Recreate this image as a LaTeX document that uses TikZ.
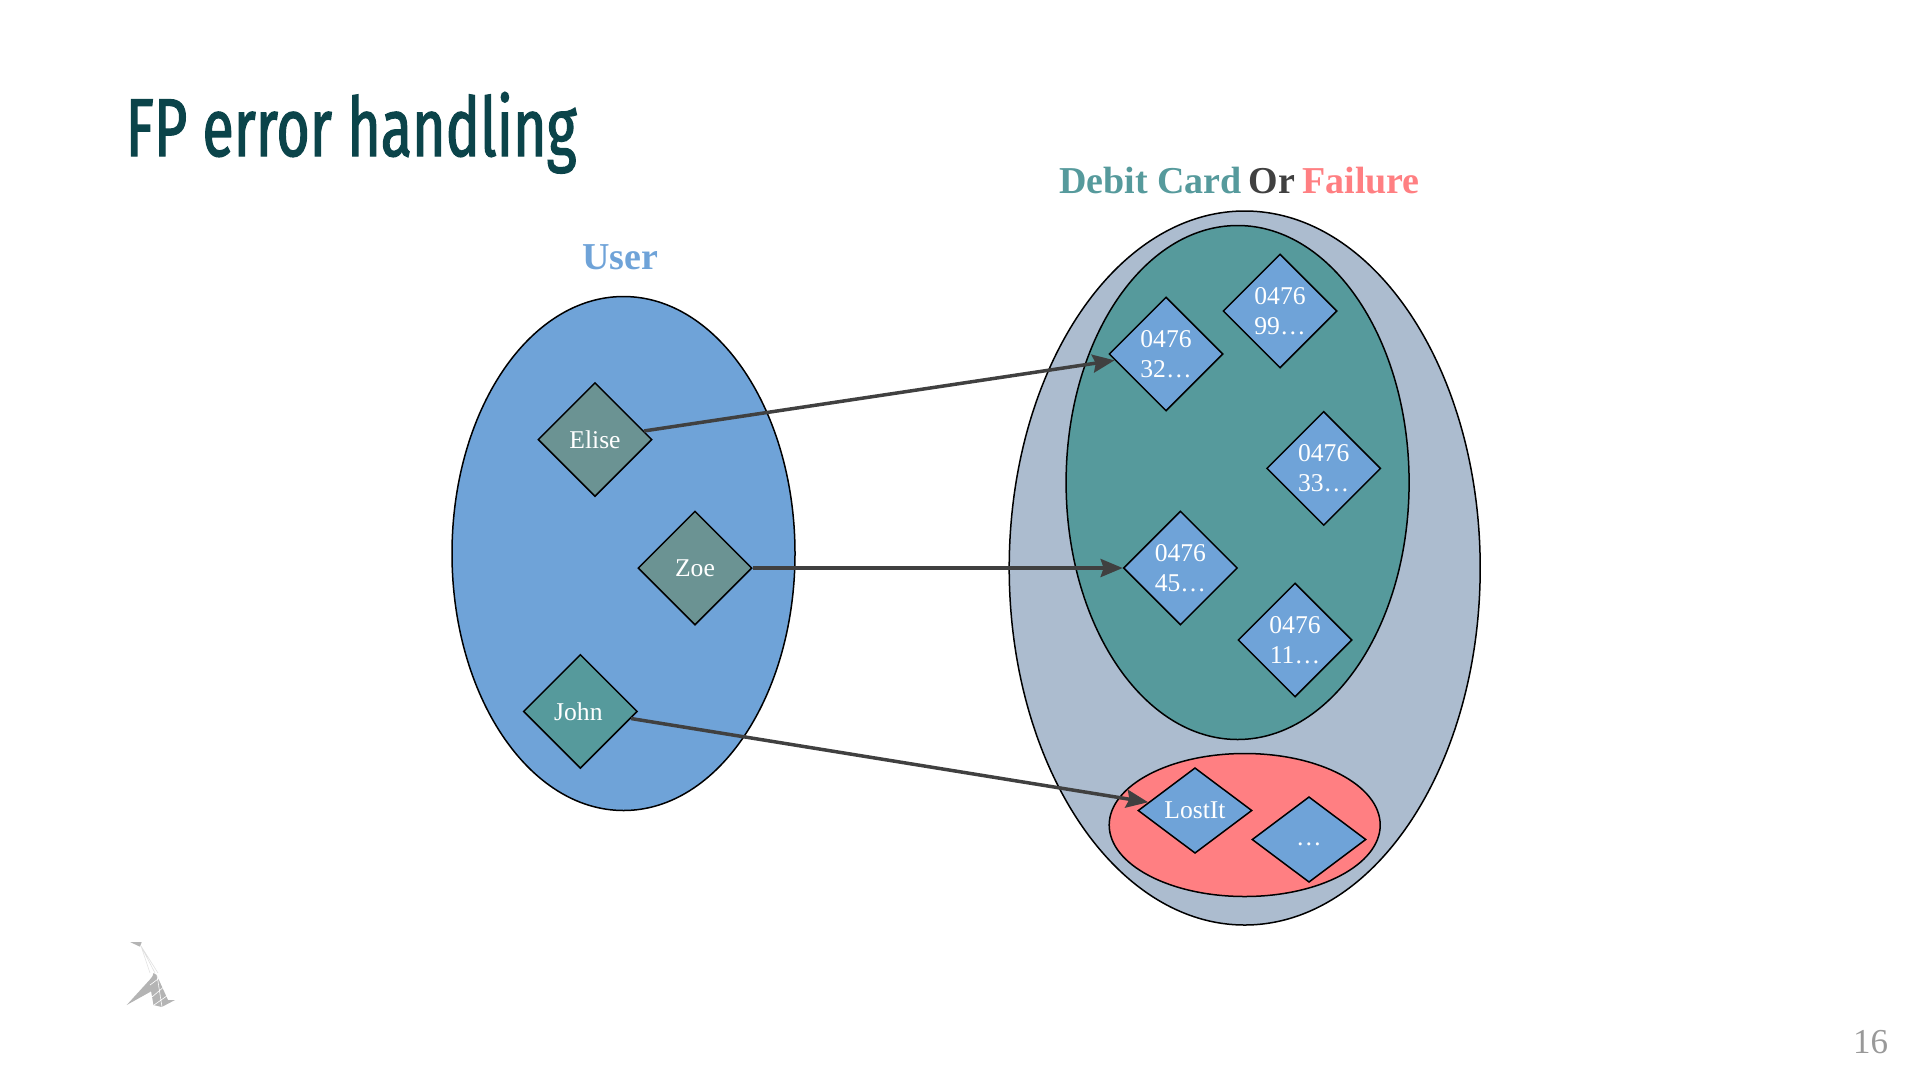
\documentclass[tikz,border=0pt]{standalone}
\usepackage{fontspec}
\usepackage{tikz}
\usetikzlibrary{shapes.geometric,arrows.meta}
\setmainfont{Liberation Serif}
\newfontfamily\titlefont[FakeStretch=0.7,FakeBold=1.5]{Fira Sans}
\definecolor{userblue}{HTML}{6FA3D8}
\definecolor{cardgreen}{HTML}{569A9C}
\definecolor{usergrey}{HTML}{6B9393}
\definecolor{unionblue}{HTML}{ACBCCF}
\definecolor{failred}{HTML}{FF7F82}
\definecolor{arrowgrey}{HTML}{404040}
\definecolor{titlegreen}{HTML}{0B444A}
\definecolor{logogrey}{HTML}{B4B4B4}
\tikzset{
  setshape/.style={draw=black,ellipse,line width=1.5pt,inner sep=0pt},
  elem/.style={draw=black,diamond,line width=1.5pt,inner sep=0pt,text=white,align=center,
    minimum width=114pt,minimum height=114pt,font=\fontsize{25.6}{30}\selectfont},
  flatelem/.style={elem,minimum height=85.6pt,fill=userblue},
  card/.style={elem,fill=userblue},
  heading/.style={font=\fontsize{38}{44}\selectfont\bfseries,anchor=base},
  mapsto/.style={draw=arrowgrey,line width=3.5pt,-{Stealth[length=22pt,width=18pt,inset=3pt]}}
}
\begin{document}
\begin{tikzpicture}[x=1pt,y=-1pt]
    \useasboundingbox (0,0) rectangle (1920,1080);
    %% Title and page number
    \node[anchor=base west,inner sep=0pt,text=titlegreen,font=\fontsize{82}{100}\selectfont\titlefont] (title) at (125.5,156) {FP error handling};
    \node[text=black!40,font=\fontsize{35}{40}\selectfont] (page) at (1870.5,1042) {16};
    %% Headings
    \node[heading,text=userblue] (userlabel) at (620.5,269.5) {User};
    \node[heading] (resultlabel) at (1239.5,193.5) {\textcolor{cardgreen}{Debit Card}\hspace{7pt}\textcolor{arrowgrey}{Or}\hspace{7pt}\textcolor{failred}{Failure}};
    %% Sets
    \node[setshape,fill=userblue,minimum width=343pt,minimum height=514pt] (users) at (623.5,553.5) {};
    \node[setshape,fill=unionblue,minimum width=471pt,minimum height=714pt] (union) at (1244.7,568) {};
    \node[setshape,fill=cardgreen,minimum width=343pt,minimum height=514pt] (cards) at (1237.6,482.5) {};
    \node[setshape,fill=failred,minimum width=271pt,minimum height=143pt] (failures) at (1244.7,825) {};
    %% Users
    \node[elem,fill=usergrey] (elise) at (595,439.6) {Elise};
    \node[elem,fill=usergrey] (zoe) at (695,568) {Zoe};
    \node[elem,fill=cardgreen] (john) at (580.4,711.4) {John\kern4pt};
    %% Cards
    \node[card] (c32) at (1166,354) {0476\\32…};
    \node[card] (c99) at (1280,311) {0476\\99…};
    \node[card] (c33) at (1323.7,468.4) {0476\\33…};
    \node[card] (c45) at (1180.4,568) {0476\\45…};
    \node[card] (c11) at (1295,640) {0476\\11…};
    %% Failures
    \node[flatelem] (lostit) at (1195,810.5) {LostIt};
    \node[flatelem] (other) at (1309,839.5) {\raisebox{-13pt}{…}};
    %% Arrows
    \draw[mapsto] (elise.10) -- (c32.187);
    \draw[mapsto] (zoe.east) -- (c45.west);
    \draw[mapsto] (john.-8) -- (lostit.170);
    %% Logo
    \fill[logogrey] (130,942) -- (141.7,942) -- (140,946.7) -- cycle;
    \draw[black!12,line width=0.6pt] (141,946) -- (150,973) (141,946) -- (155,973) (141,946) -- (158,973);
    \fill[logogrey] (126.7,1005) -- (149.5,980) -- (153.5,975) -- (156.7,975) -- (156.7,986) -- (150,992) -- cycle;
    \fill[logogrey] (153.5,973) -- (156.7,975) -- (168,1000) -- (175,1000) -- (161.7,1007) -- (153.5,1005) -- (150,985) -- cycle;
    \draw[white,line width=0.6pt] (150,985) -- (162,976) (152,997) -- (166,985) (154,1005) -- (171,993) (157,975) -- (162,1007);
\end{tikzpicture}
\end{document}
